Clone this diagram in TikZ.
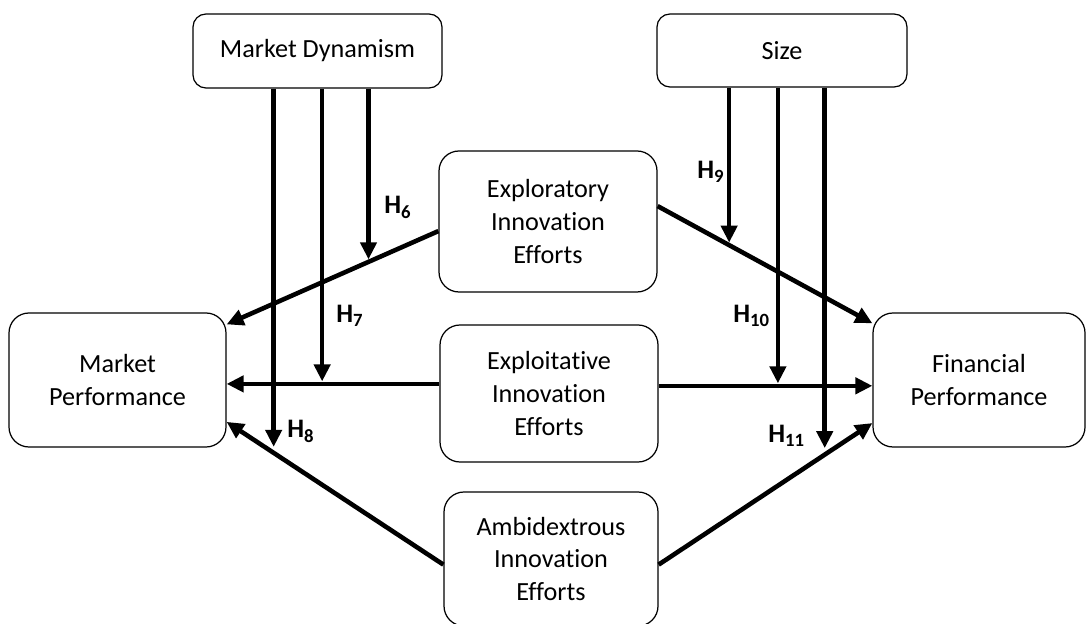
\documentclass[tikz,border=0pt]{standalone}
\usepackage{fontspec}
\setmainfont{Carlito}[Ligatures={NoCommon,NoContextual,NoRare},Contextuals=NoAlternate]
\usetikzlibrary{arrows.meta}

\begin{document}
\begin{tikzpicture}[
    box/.style={draw, line width=0.7pt, rounded corners=0.4cm, align=center,
      inner sep=0pt, font=\fontsize{14.9}{18.6}\selectfont},
    hyp/.style={line width=2.6pt, shorten >=0.5mm,
      -{Triangle[length=3.4mm,width=3.2mm]}},
    lbl/.style={anchor=base west, inner sep=0pt,
      font=\fontsize{15.2}{18.6}\selectfont\bfseries}]

        \useasboundingbox (0,0) rectangle (21.72,12.48);

        %Moderators
        \node [box, rounded corners=0.26cm, minimum width=4.98cm, minimum height=1.48cm]
          (md) at (6.35,11.46) {Market Dynamism};
        \node [box, rounded corners=0.26cm, minimum width=5cm, minimum height=1.46cm]
          (size) at (15.64,11.47) {Size};

        %Innovation efforts
        \node [box, minimum width=4.36cm, minimum height=2.82cm]
          (explor) at (10.96,8.05) {Exploratory\\Innovation\\Efforts};
        \node [box, minimum width=4.36cm, minimum height=2.74cm]
          (exploit) at (10.98,4.61) {Exploitative\\Innovation\\Efforts};
        \node [box, minimum width=4.28cm, minimum height=2.68cm]
          (ambi) at (11.02,1.30) {Ambidextrous\\Innovation\\Efforts};

        %Performance
        \node [box, minimum width=4.34cm, minimum height=2.68cm]
          (mp) at (2.35,4.88) {Market\\Performance};
        \node [box, minimum width=4.24cm, minimum height=2.68cm]
          (fp) at (19.58,4.88) {Financial\\Performance};

        %Direct effects
        \draw [hyp, shorten >=0pt] (explor.185) -- coordinate[pos=0.330] (t6) (mp.27);
        \draw [hyp, shorten >=0pt] (exploit.175.5) -- coordinate[pos=0.551] (t7)
          (mp.east |- exploit.175.5);
        \draw [hyp, shorten >=0pt] (ambi.183.7) -- coordinate[pos=0.783] (t8) (mp.-21.4);
        \draw [hyp, shorten >=0pt] (explor.8.6) -- coordinate[pos=0.333] (t9) (fp.152.6);
        \draw [hyp, shorten >=0pt] (exploit.4.5) -- coordinate[pos=0.558] (t10)
          (fp.west |- exploit.4.5);
        \draw [hyp, shorten >=0pt] (ambi.-3.7) -- coordinate[pos=0.777] (t11) (fp.202.1);

        %Market dynamism
        \draw [hyp] (md.south -| t6) -- (t6);
        \draw [hyp] (md.south -| t7) -- (t7);
        \draw [hyp, shorten >=1.2mm] (md.south -| t8) -- (t8);

        %Size
        \draw [hyp] (size.south -| t9)  -- (t9);
        \draw [hyp] (size.south -| t10) -- (t10);
        \draw [hyp, shorten >=1.3mm] (size.south -| t11) -- (t11);

        %Hypotheses
        \node [lbl] (h6)  at (7.68,8.20)  {H\textsubscript{6}};
        \node [lbl] (h7)  at (6.72,6.02)  {H\textsubscript{7}};
        \node [lbl] (h8)  at (5.74,3.72)  {H\textsubscript{8}};
        \node [lbl] (h9)  at (13.94,8.90) {H\textsubscript{9}};
        \node [lbl] (h10) at (14.66,6.02) {H\textsubscript{10}};
        \node [lbl] (h11) at (15.36,3.62) {H\textsubscript{11}};

       \end{tikzpicture}
\end{document}
